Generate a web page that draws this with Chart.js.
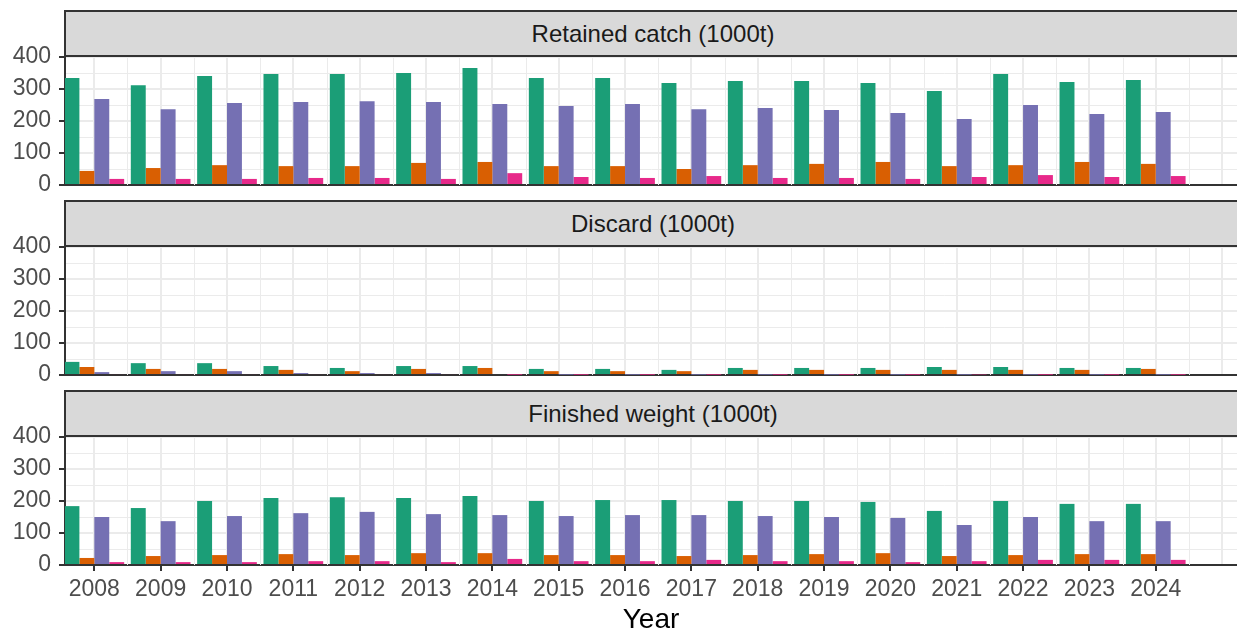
<!DOCTYPE html>
<html>
<head>
<meta charset="utf-8">
<script src="https://cdn.jsdelivr.net/npm/chart.js@4/dist/chart.umd.min.js"></script>
<style>
  html, body { margin: 0; padding: 0; background: #fff; width: 1237px; height: 634px; overflow: hidden; }
  canvas { position: absolute; left: 0; }
  .strip {
    position: absolute; left: 64px; width: 1176px; height: 47px; box-sizing: border-box;
    background: #d9d9d9; border-top: 2px solid #333; border-left: 2px solid #333; border-bottom: 2px solid #333;
    font-family: "Liberation Sans", Arial, sans-serif; font-size: 24px; color: #1a1a1a;
    display: flex; align-items: center; justify-content: center; z-index: 2;
  }
</style>
</head>
<body>
<div class="strip" style="top:10px">Retained catch (1000t)</div>
<canvas id="retained" width="1237" height="156" style="top:43px"></canvas>
<div class="strip" style="top:200px">Discard (1000t)</div>
<canvas id="discard" width="1237" height="156" style="top:233px"></canvas>
<div class="strip" style="top:390px">Finished weight (1000t)</div>
<canvas id="finished" width="1237" height="211" style="top:423px"></canvas>

<script>
const years = [2008, 2009, 2010, 2011, 2012, 2013, 2014, 2015, 2016, 2017, 2018, 2019, 2020, 2021, 2022, 2023, 2024];
const seriesNames = ['Series 1', 'Series 2', 'Series 3', 'Series 4'];
const seriesColors = ['#1b9e77', '#d95f02', '#7570b3', '#e7298a'];
const yTicks = [0, 100, 200, 300, 400];

// Retained catch (1000t)
const retained1 = [334, 312, 341, 347, 347, 350, 366, 334, 334, 319, 325, 325, 319, 294, 347, 322, 328];
const retained2 = [44, 53, 62, 59, 59, 69, 72, 59, 59, 50, 62, 66, 72, 59, 62, 72, 66];
const retained3 = [269, 237, 256, 259, 262, 259, 253, 247, 253, 237, 241, 234, 225, 206, 250, 222, 228];
const retained4 = [19, 19, 19, 22, 22, 19, 37, 25, 22, 28, 22, 22, 19, 25, 31, 25, 28];

// Discard (1000t)
const discard1 = [41, 37, 37, 28, 22, 28, 28, 19, 19, 16, 22, 22, 22, 25, 25, 22, 22];
const discard2 = [25, 19, 19, 16, 12, 19, 22, 12, 12, 12, 16, 16, 16, 16, 16, 16, 19];
const discard3 = [9, 12, 12, 6, 6, 6, 3, 1, 1, 1, 1, 1, 1, 1, 1, 1, 1];
const discard4 = [3, 3, 3, 3, 3, 3, 1, 1, 1, 1, 1, 1, 1, 2, 1, 1, 1];

// Finished weight (1000t)
const finished1 = [184, 178, 200, 209, 212, 209, 216, 200, 203, 203, 200, 200, 197, 169, 200, 191, 191];
const finished2 = [22, 28, 31, 34, 31, 37, 37, 31, 31, 28, 31, 34, 37, 28, 31, 34, 34];
const finished3 = [150, 137, 153, 162, 166, 159, 156, 153, 156, 156, 153, 150, 147, 125, 150, 137, 137];
const finished4 = [9, 9, 9, 12, 12, 9, 19, 12, 12, 16, 12, 12, 9, 12, 16, 16, 16];

const FONT = '"Liberation Sans", Arial, sans-serif';
const AXIS_DARK = '#333333';
const GRID = '#ebebeb';
const X_MIN = 2007.558;
const X_MAX = 2025.225;

// major vertical grid at each year plus one beyond the last
const gridYears = years.concat([years[years.length - 1] + 1]);

// half-year minor gridlines, drawn under the bars
const minorGrid = {
    id: 'minorGrid',
    beforeDatasetsDraw(chart) {
        const { ctx, chartArea: a, scales: { x } } = chart;
        ctx.save();
        ctx.strokeStyle = GRID;
        ctx.lineWidth = 1;
        years.forEach(y => {
            const px = Math.round(x.getPixelForValue(y + 0.5)) + 0.5;
            ctx.beginPath();
            ctx.moveTo(px, a.top);
            ctx.lineTo(px, a.bottom);
            ctx.stroke();
        });
        ctx.restore();
    }
};

// keep the plot area fixed: no extra room for edge labels
function noEdgePadding(scale) {
    scale.paddingTop = 0;
    scale.paddingBottom = 0;
    scale.paddingLeft = 0;
    scale.paddingRight = 0;
}

function makePanel(id, values, isBottom) {
    const datasets = values.map((vals, i) => ({
        label: seriesNames[i],
        data: years.map((yr, j) => ({ x: yr, y: vals[j] })),
        backgroundColor: seriesColors[i],
        borderWidth: 0,
        categoryPercentage: 0.9,
        barPercentage: 1.0
    }));

    return new Chart(document.getElementById(id), {
        type: 'bar',
        data: { datasets },
        plugins: [minorGrid],
        options: {
            responsive: false,
            animation: false,
            devicePixelRatio: 1,
            layout: { autoPadding: false, padding: { top: 14, left: 0, right: 0, bottom: 0 } },
            plugins: { legend: { display: false }, tooltip: { enabled: false } },
            scales: {
                x: {
                    type: 'linear',
                    offset: false,
                    min: X_MIN,
                    max: X_MAX,
                    afterBuildTicks: scale => { scale.ticks = gridYears.map(v => ({ value: v })); },
                    afterFit: scale => { scale.height = isBottom ? 69 : 14; noEdgePadding(scale); },
                    border: { display: true, color: AXIS_DARK, width: 2 },
                    grid: {
                        offset: false,
                        color: GRID,
                        lineWidth: 2,
                        drawTicks: isBottom,
                        tickLength: 6,
                        tickWidth: 2,
                        tickColor: ctx => years.includes(ctx.tick && ctx.tick.value) ? AXIS_DARK : 'rgba(0,0,0,0)'
                    },
                    ticks: {
                        display: isBottom,
                        autoSkip: false,
                        maxRotation: 0,
                        padding: 5,
                        color: '#4d4d4d',
                        font: { family: FONT, size: 23 },
                        callback: v => years.includes(v) ? String(v) : ''
                    },
                    title: {
                        display: isBottom,
                        text: 'Year',
                        color: '#000000',
                        font: { family: FONT, size: 28, lineHeight: 1 },
                        padding: { top: 0, bottom: 0 }
                    }
                },
                y: {
                    min: 0,
                    max: 400,
                    afterFit: scale => { scale.width = 65; noEdgePadding(scale); },
                    border: { display: true, color: AXIS_DARK, width: 2 },
                    grid: {
                        color: GRID,
                        lineWidth: ctx => yTicks.includes(ctx.tick && ctx.tick.value) ? 2 : 1,
                        tickLength: 6,
                        tickWidth: 2,
                        tickColor: ctx => yTicks.includes(ctx.tick && ctx.tick.value) ? AXIS_DARK : 'rgba(0,0,0,0)'
                    },
                    ticks: {
                        stepSize: 50,
                        autoSkip: false,
                        padding: 8,
                        color: '#4d4d4d',
                        font: { family: FONT, size: 23 },
                        callback: v => yTicks.includes(v) ? String(v) : ''
                    }
                }
            }
        }
    });
}

makePanel('retained', [retained1, retained2, retained3, retained4], false);
makePanel('discard', [discard1, discard2, discard3, discard4], false);
makePanel('finished', [finished1, finished2, finished3, finished4], true);
</script>
</body>
</html>
